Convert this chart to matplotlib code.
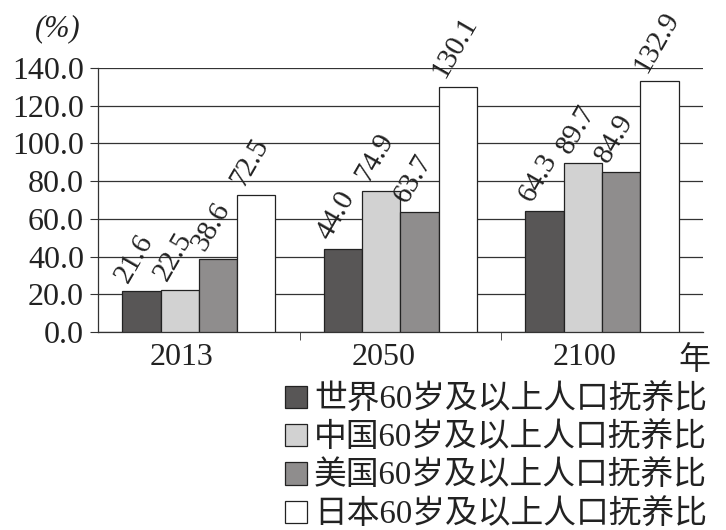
import numpy as np
import matplotlib.pyplot as plt
from matplotlib.transforms import ScaledTranslation

plt.rcParams['font.family'] = ['Liberation Serif', 'Noto Sans CJK SC']

# data
years = ['2013', '2050', '2100']
world = [21.6, 44.0, 64.3]
china = [22.5, 74.9, 89.7]
usa = [38.6, 63.7, 84.9]
japan = [72.5, 130.1, 132.9]
series_labels = ['世界60岁及以上人口抚养比', '中国60岁及以上人口抚养比',
                 '美国60岁及以上人口抚养比', '日本60岁及以上人口抚养比']
yticks = [0, 20, 40, 60, 80, 100, 120, 140]

colors = ['#585656', '#d2d2d2', '#8f8d8d', '#ffffff']
fs = 23

fig = plt.figure(figsize=(7.26, 5.30), dpi=100)
ax = fig.add_axes([0.135, 0.3736, 0.833, 0.4981])

x = np.arange(len(years))
w = 0.19
all_series = [world, china, usa, japan]
for i, (vals, col, lab) in enumerate(zip(all_series, colors, series_labels)):
    pos = x + (i - 1.5) * w
    ax.bar(pos, vals, w, color=col, edgecolor='#222222', linewidth=0.9,
           label=lab, zorder=3)
    for px, v in zip(pos, vals):
        ax.text(px - 0.065, v + 4, f'{v:.1f}', rotation=60,
                rotation_mode='anchor', ha='left', va='baseline',
                fontsize=21, color='#222222', zorder=4)

ax.set_xlim(-0.5, 2.5)
ax.set_ylim(0, 140)
ax.set_yticks(yticks)
ax.set_yticklabels([f'{t:.1f}' for t in yticks], fontsize=fs, color='#222222')
ax.yaxis.grid(True, color='#333333', linewidth=0.9, zorder=0)
ax.set_axisbelow(True)

ax.set_xticks(x)
ax.set_xticklabels(years, fontsize=fs, color='#222222')
ax.set_xticks([0.5, 1.5], minor=True)
ax.tick_params(axis='x', which='major', length=0, pad=8)
ax.tick_params(axis='x', which='minor', length=6, direction='out',
               color='#333333')
ax.tick_params(axis='y', length=6, direction='out', color='#333333', pad=4)
# year labels sit a little left of the group centre
offset = ScaledTranslation(-0.17, 0, fig.dpi_scale_trans)
for lbl in ax.get_xticklabels():
    lbl.set_transform(lbl.get_transform() + offset)

for side in ['top', 'right']:
    ax.spines[side].set_visible(False)
for side in ['left', 'bottom']:
    ax.spines[side].set_color('#333333')
    ax.spines[side].set_linewidth(0.9)

fig.text(0.048, 0.945, '(%)', fontsize=fs - 1, color='#222222',
         ha='left', va='center', style='italic')
fig.text(0.956, 0.318, '年', fontsize=fs, color='#222222',
         ha='center', va='center')

leg = fig.legend(loc='upper left', bbox_to_anchor=(0.393, 0.275),
                 frameon=False, fontsize=23.6, handlelength=0.67,
                 handleheight=0.67, handletextpad=0.2, labelspacing=0.22,
                 borderpad=0, borderaxespad=0)
for t in leg.get_texts():
    t.set_color('#222222')

fig.savefig('out.png', dpi=100)
